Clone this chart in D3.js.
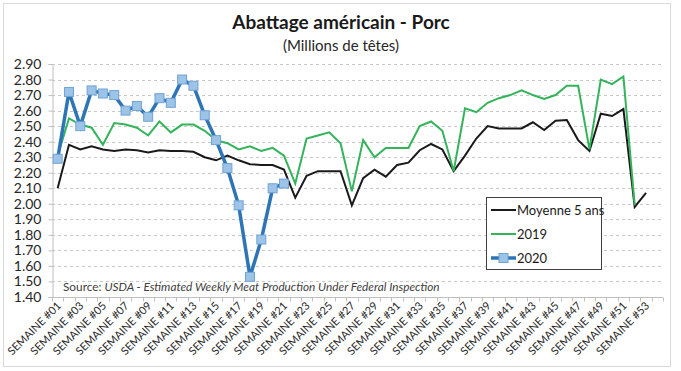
<!DOCTYPE html>
<html>
<head>
<meta charset="utf-8">
<script src="https://cdn.jsdelivr.net/npm/d3@7"></script>
<style>
  body { margin: 0; background: #fff; }
  text { font-family: Lato, "Open Sans", sans-serif; }
</style>
</head>
<body>
<div id="canvas"></div>
<script>
"use strict"

/* data */
let weeks = d3.range(1, 55).map(function (w) { return "SEMAINE #" + String(w).padStart(2, "0"); });

let moyenne = [2.10, 2.38, 2.35, 2.37, 2.35, 2.34, 2.35, 2.345, 2.33, 2.345,
  2.34, 2.34, 2.335, 2.30, 2.28, 2.31, 2.28, 2.255, 2.25, 2.25,
  2.22, 2.04, 2.18, 2.21, 2.21, 2.21, 1.99, 2.165, 2.22, 2.175,
  2.25, 2.265, 2.345, 2.385, 2.35, 2.21, 2.31, 2.42, 2.50, 2.485,
  2.485, 2.485, 2.525, 2.475, 2.535, 2.54, 2.41, 2.34, 2.58, 2.565,
  2.61, 1.98, 2.07];

let an2019 = [2.31, 2.55, 2.51, 2.49, 2.38, 2.52, 2.51, 2.49, 2.44, 2.53,
  2.46, 2.51, 2.51, 2.47, 2.41, 2.39, 2.35, 2.37, 2.34, 2.36,
  2.31, 2.13, 2.42, 2.44, 2.46, 2.39, 2.08, 2.41, 2.30, 2.36,
  2.36, 2.36, 2.50, 2.53, 2.47, 2.21, 2.615, 2.59, 2.65, 2.68,
  2.70, 2.73, 2.70, 2.675, 2.70, 2.76, 2.76, 2.35, 2.80, 2.77,
  2.82, 1.99];

let an2020 = [2.29, 2.72, 2.50, 2.73, 2.71, 2.70, 2.60, 2.63, 2.56, 2.68,
  2.65, 2.80, 2.76, 2.57, 2.41, 2.23, 1.99, 1.53, 1.77, 2.10,
  2.13];

let yTicks = d3.range(1.40, 2.901, 0.10);

let drawing = d3.select("#canvas")
    .append("svg")
    .attr("width", 681)
    .attr("height", 371);

let border = drawing.append("rect")
    .attr("x", 3.5).attr("y", 3.5)
    .attr("width", 667).attr("height", 363)
    .attr("fill", "#fff")
    .attr("stroke", "#d9d9d9");

let x = d3.scaleBand().domain(weeks).range([52, 663]);
let y = d3.scaleLinear().domain([1.40, 2.90]).range([297, 64]);
let cx = function (i) { return x(weeks[i]) + x.bandwidth() / 2; };

/* titles */
drawing.append("text")
    .attr("x", 341).attr("y", 29)
    .attr("text-anchor", "middle")
    .attr("font-size", 19).attr("font-weight", "bold")
    .attr("fill", "#1a1a1a")
    .text("Abattage américain - Porc");

drawing.append("text")
    .attr("x", 341).attr("y", 51)
    .attr("text-anchor", "middle")
    .attr("font-size", 15)
    .attr("fill", "#262626")
    .text("(Millions de têtes)");

/* gridlines */
drawing.append("g")
    .selectAll("line")
    .data(yTicks.slice(1))
    .join("line")
    .attr("x1", 52).attr("x2", 663)
    .attr("y1", function (d) { return Math.round(y(d)) + 0.5; })
    .attr("y2", function (d) { return Math.round(y(d)) + 0.5; })
    .attr("stroke", "#c8c8c8")
    .attr("stroke-dasharray", "3,3");

/* y axis */
let yAxis = drawing.append("g")
    .attr("transform", "translate(52.5,0)")
    .call(d3.axisLeft(y).tickValues(yTicks).tickFormat(d3.format(".2f")).tickSizeOuter(0).tickSize(4));
yAxis.select(".domain").attr("stroke", "#bfbfbf");
yAxis.selectAll(".tick line").attr("stroke", "#bfbfbf");
yAxis.selectAll(".tick text")
    .attr("x", -11)
    .attr("font-size", 14)
    .attr("font-family", "Lato, sans-serif")
    .attr("fill", "#262626");

/* x axis */
let xAxis = drawing.append("g")
    .attr("transform", "translate(0,297.5)");
xAxis.append("line")
    .attr("x1", 52).attr("x2", 663)
    .attr("stroke", "#bfbfbf");
xAxis.selectAll("line.tk")
    .data(weeks.concat(["end"]))
    .join("line")
    .attr("class", "tk")
    .attr("x1", function (d, i) { return Math.round(52 + i * x.step()) + 0.5; })
    .attr("x2", function (d, i) { return Math.round(52 + i * x.step()) + 0.5; })
    .attr("y1", 0).attr("y2", 4)
    .attr("stroke", "#bfbfbf");
xAxis.selectAll("text")
    .data(weeks.filter(function (d, i) { return i % 2 === 0 && i < 53; }))
    .join("text")
    .attr("transform", function (d) {
      return "translate(" + (x(d) + x.bandwidth() / 2 + 4) + ",9) rotate(-45)";
    })
    .attr("text-anchor", "end")
    .attr("font-size", 11)
    .attr("fill", "#262626")
    .text(function (d) { return d; });

/* source note */
let source = drawing.append("text")
    .attr("x", 63).attr("y", 291)
    .attr("font-size", 11.8)
    .attr("fill", "#404040");
source.append("tspan").text("Source: ");
source.append("tspan").attr("font-style", "italic")
    .text("USDA - Estimated Weekly Meat Production Under Federal Inspection");

/* lines */
let line = d3.line()
    .x(function (d, i) { return cx(i); })
    .y(function (d) { return y(d); });

drawing.append("path")
    .datum(moyenne)
    .attr("d", line)
    .attr("fill", "none")
    .attr("stroke", "#1a1a1a")
    .attr("stroke-width", 2);

drawing.append("path")
    .datum(an2019)
    .attr("d", line)
    .attr("fill", "none")
    .attr("stroke", "#33b35a")
    .attr("stroke-width", 2);

drawing.append("path")
    .datum(an2020)
    .attr("d", line)
    .attr("fill", "none")
    .attr("stroke", "#2e75b6")
    .attr("stroke-width", 3.5);

drawing.append("g")
    .selectAll("rect")
    .data(an2020)
    .join("rect")
    .attr("x", function (d, i) { return cx(i) - 4.5; })
    .attr("y", function (d) { return y(d) - 4.5; })
    .attr("width", 9).attr("height", 9)
    .attr("fill", "#9dc3e6")
    .attr("stroke", "#6fa3d8")
    .attr("stroke-width", 1);

/* legend */
let legend = drawing.append("g");
legend.append("rect")
    .attr("x", 486.5).attr("y", 197.5)
    .attr("width", 115).attr("height", 72)
    .attr("fill", "#fff")
    .attr("stroke", "#404040");

let legendItems = [
  { label: "Moyenne 5 ans", color: "#1a1a1a", w: 2, marker: false },
  { label: "2019", color: "#33b35a", w: 2, marker: false },
  { label: "2020", color: "#2e75b6", w: 3.5, marker: true }
];
legendItems.forEach(function (it, i) {
  let ly = 210 + i * 24;
  legend.append("line")
      .attr("x1", 491).attr("x2", 516)
      .attr("y1", ly).attr("y2", ly)
      .attr("stroke", it.color)
      .attr("stroke-width", it.w);
  if (it.marker) {
    legend.append("rect")
        .attr("x", 499).attr("y", ly - 4.5)
        .attr("width", 9).attr("height", 9)
        .attr("fill", "#9dc3e6")
        .attr("stroke", "#6fa3d8");
  }
  legend.append("text")
      .attr("x", 517).attr("y", ly + 4.5)
      .attr("font-size", 13)
      .attr("fill", "#1a1a1a")
      .text(it.label);
});
</script>
</body>
</html>
